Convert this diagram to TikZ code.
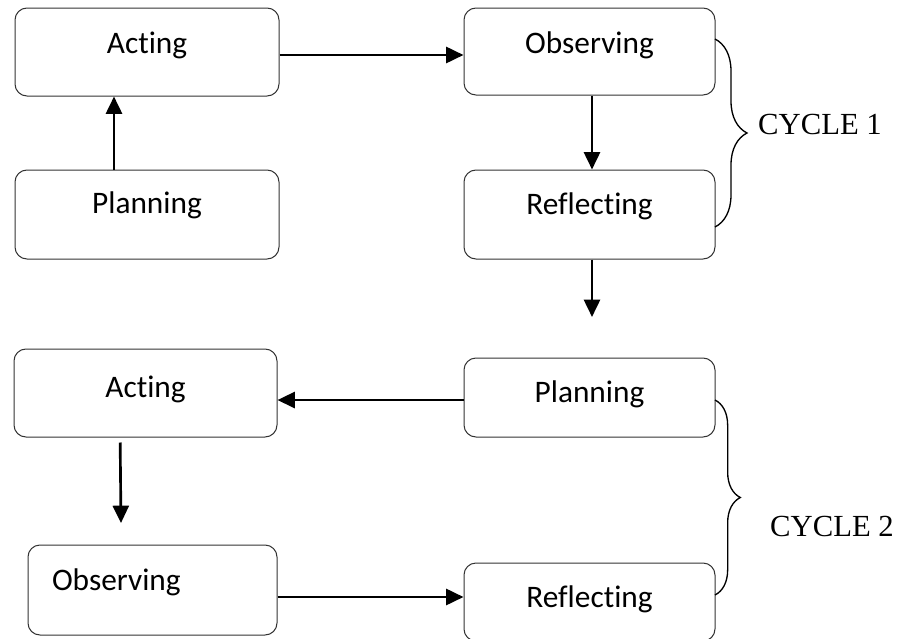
\documentclass[tikz,border=0pt]{standalone}
\usepackage{fontspec}
\setmainfont{Liberation Serif}
\newfontfamily\calibrifont[Ligatures={NoCommon,NoRare}]{Carlito}
\usetikzlibrary{arrows.meta,decorations.pathreplacing}

\begin{document}
\begin{tikzpicture}[x=0.75pt, y=-0.75pt,
    stage/.style={draw=black!80, line width=0.75pt, rounded corners=9pt,
      font=\calibrifont\fontsize{23.5}{28}\selectfont,
      text height=16.5pt, text depth=#1},
    flow/.style={-{Triangle[length=13pt,width=12pt]}, line width=2pt},
    cycbrace/.style={decorate, decoration={brace, amplitude=#1}, line width=1pt},
    cyclabel/.style={font=\fontsize{23}{28}\selectfont}]
  \useasboundingbox (0,0) rectangle (904,639);

  \node[stage=15pt,   minimum width=198pt,    minimum height=66pt]    (A1) at (147,52)    {Acting};
  \node[stage=18pt,   minimum width=198pt,    minimum height=66.75pt] (P1) at (147,214.5) {Planning};
  \node[stage=13.5pt, minimum width=188.25pt, minimum height=65.25pt] (O1) at (589.5,51.5) {Observing};
  \node[stage=16.5pt, minimum width=188.25pt, minimum height=66.75pt] (R1) at (589.5,214.5) {Reflecting};

  \node[stage=10.5pt, minimum width=197.25pt, minimum height=66pt]    (A2) at (145.5,393) {Acting};
  \node[stage=9pt,    minimum width=188.25pt, minimum height=59.25pt] (P2) at (589.5,397.5) {Planning};
  \node[stage=16.5pt, text width=150.75pt, inner xsep=18pt, align=left,
        minimum height=67.5pt] (O2) at (152.5,590) {Observing};
  \node[stage=9pt,    minimum width=188.25pt, minimum height=58.5pt]  (R2) at (589.5,602) {Reflecting};

  \coordinate (r1out) at (592,317);
  \coordinate (a2out) at (121,523);

  \draw[flow] ([xshift=-24.75pt]P1.north) -- ([xshift=-24.75pt]A1.south);
  \draw[flow] ([yshift=-2.25pt]A1.east) -- ([yshift=-2.25pt]A1.east -| O1.west);
  \draw[flow] (O1.south -| r1out) -- (R1.north -| r1out);
  \draw[flow] (R1.south -| r1out) -- (r1out);
  \draw[flow] ([yshift=-1.9pt]P2.west) -- ([yshift=-1.9pt]P2.west -| A2.east);
  \draw[flow] ([xshift=-19pt,yshift=-3.75pt]A2.south) -- (a2out);
  \draw[flow] ([yshift=-5.25pt]O2.east) -- ([yshift=-5.25pt]O2.east -| R2.west);

  \draw[cycbrace=24pt] (715,39) -- (715,227);
  \draw[cycbrace=19pt] (715,400) -- (715,595);

  \node[cyclabel] (cyc1) at (820,124) {CYCLE 1};
  \node[cyclabel] (cyc2) at (832,526) {CYCLE 2};
\end{tikzpicture}
\end{document}
